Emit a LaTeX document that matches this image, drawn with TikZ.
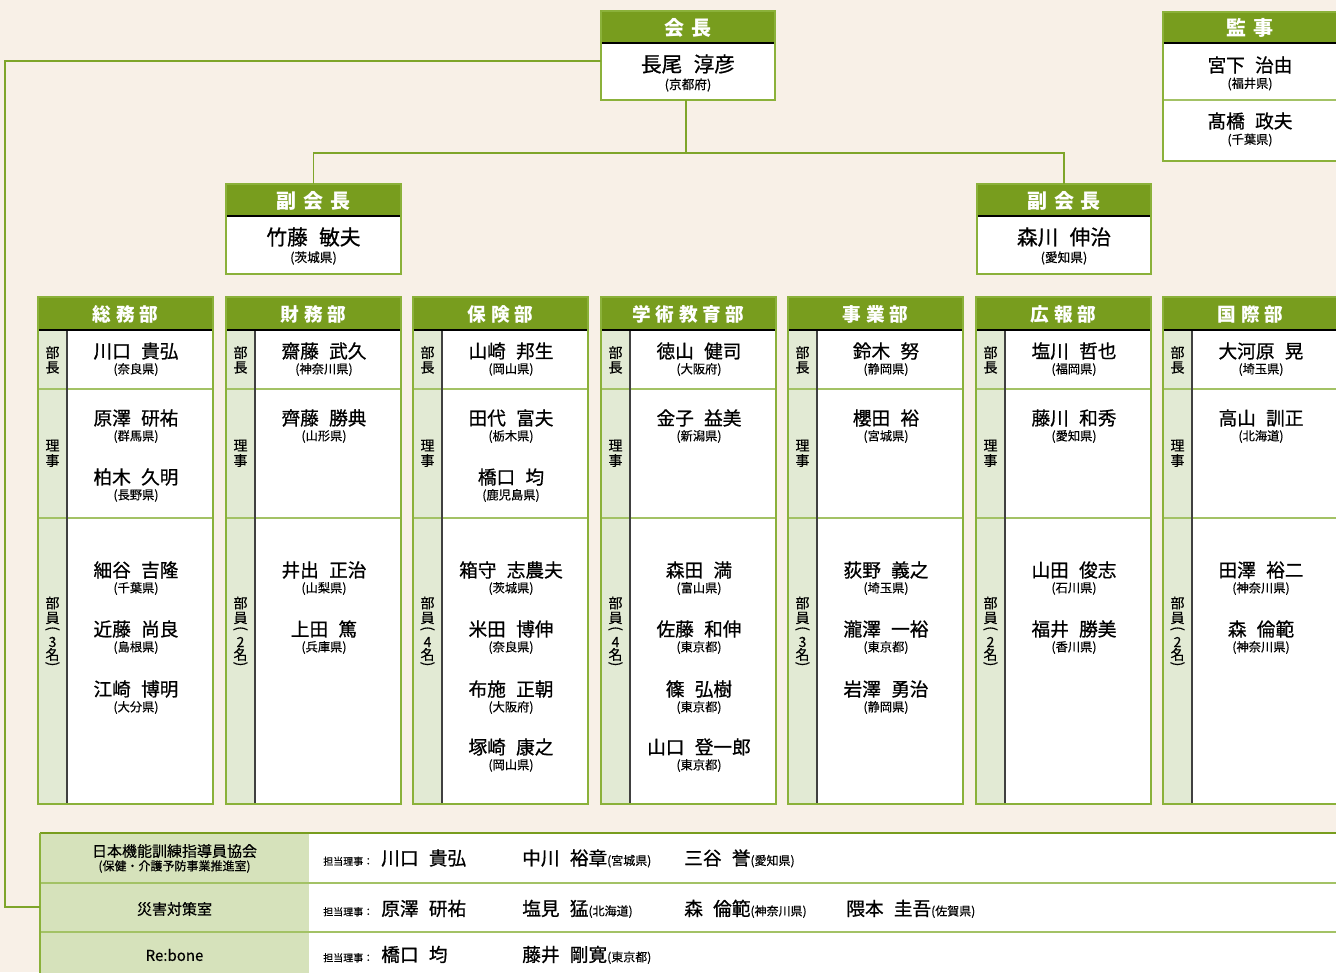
\documentclass[tikz,border=0pt]{standalone}
\usepackage{fontspec}
\usepackage{graphicx}
\setmainfont{Noto Sans CJK JP}
\newfontfamily\medf{Noto Sans CJK JP}[FakeBold=0.8]
\newfontfamily\semf{Noto Sans CJK JP}[FakeBold=0.4]
\usetikzlibrary{calc}
\definecolor{bgc}{HTML}{F8F0E7}
\definecolor{hdrc}{HTML}{789D1E}
\definecolor{bordc}{HTML}{8BB13A}
\definecolor{rowc}{HTML}{A3C265}
\definecolor{connc}{HTML}{7FA52A}
\definecolor{sidec}{HTML}{E2EAD4}
\definecolor{tblside}{HTML}{D6E2BB}
\definecolor{sepc}{HTML}{404040}
\newcommand\gp{\hspace{0.55em}}
\newcommand\ls{\hspace{3.5pt}}
\newcommand\lsb{\hspace{5pt}}
\newcommand\smf{\semf\fontsize{7.5}{9}\selectfont}
\newcommand\nmf{\medf\fontsize{14}{16}\selectfont}
\newcommand\bpf{\semf\fontsize{9}{10}\selectfont}
\newcommand\lpar{\rotatebox[origin=c]{-90}{(}}
\newcommand\rpar{\rotatebox[origin=c]{-90}{)}}
\newcommand\ppl[5]{%
  \node[nmt] (#1) at (#2,#3) {#4};
  \node[pft] (#1p) at (#2,#3+18.5) {#5};}
\newcommand\dept[4]{%
  \fill[white] (#1,297) rectangle ++(175,507);
  \fill[sidec] (#1,330) rectangle ++(29,474);
  \fill[hdrc] (#1,297) rectangle ++(175,33);
  \draw[rowl] (#1,389) -- ++(175,0) (#1,518) -- ++(175,0);
  \draw[sepl] (#1+29,330) -- ++(0,474);
  \draw[blkl] (#1,330) -- ++(175,0);
  \draw[bordl] (#1,297) rectangle ++(175,507);
  \node[hdrt] (#3-h) at (#1+87.5,314) {#2};
  \node[vch] (#3-l1a) at (#1+14.5,352.5) {部};
  \node[vch] (#3-l1b) at (#1+14.5,367.5) {長};
  \node[vch] (#3-l2a) at (#1+14.5,445.5) {理};
  \node[vch] (#3-l2b) at (#1+14.5,460.5) {事};
  \node[vch] (#3-l3a) at (#1+14.5,603) {部};
  \node[vch] (#3-l3b) at (#1+14.5,618) {員};
  \node[vch] (#3-l3c) at (#1+14.5,629.5) {\lpar};
  \node[vch] (#3-l3d) at (#1+14.5,642) {#4};
  \node[vch] (#3-l3e) at (#1+14.5,654.5) {名};
  \node[vch] (#3-l3f) at (#1+14.5,665) {\rpar};}
\begin{document}
\begin{tikzpicture}[x=0.75pt,y=-0.75pt,
  hdrt/.style={text=white,font=\fontsize{14}{15}\selectfont\bfseries,inner sep=0pt},
  bighdr/.style={text=white,font=\fontsize{15}{17}\selectfont\bfseries,inner sep=0pt},
  nmt/.style={font=\nmf,inner sep=0pt},
  bignm/.style={font=\medf\fontsize{15.5}{17}\selectfont,inner sep=0pt},
  pft/.style={font=\semf\fontsize{9.2}{10}\selectfont,inner sep=0pt},
  bigpf/.style={font=\semf\fontsize{9.5}{10}\selectfont,inner sep=0pt},
  vch/.style={font=\semf\fontsize{10.5}{12}\selectfont,inner sep=0pt},
  bordl/.style={draw=bordc,line width=1.5pt},
  rowl/.style={draw=rowc,line width=1.1pt},
  sepl/.style={draw=sepc,line width=0.8pt},
  blkl/.style={draw=black,line width=1pt},
  conn/.style={draw=connc,line width=1.3pt},
  boxn/.style={inner sep=0pt,outer sep=0pt,anchor=north west,fill=white},
  rowt/.style={anchor=base west,inner sep=0pt},
  leftt/.style={inner sep=0pt}]
\useasboundingbox (0,0) rectangle (1336,972);
\clip (0,0) rectangle (1336,972);
\fill[bgc] (0,0) rectangle (1336,972);

% ---- president
\node[boxn,minimum width=130.5pt,minimum height=66.75pt] (kaicho) at (601,11) {};
\fill[hdrc] (601,11) rectangle (775,43);
\draw[blkl] (601,43) -- (775,43);
\draw[bordl] (601,11) rectangle (775,100);
\node[bighdr] (kaicho-h) at (688,28) {会\lsb 長};
\node[bignm] (kaicho-n) at (688,64) {長尾\gp 淳彦};
\node[bigpf] (kaicho-p) at (688,85) {(京都府)};

% ---- auditors
\node[boxn,minimum width=130.5pt,minimum height=111.75pt] (kanji) at (1163,12) {};
\fill[hdrc] (1163,12) rectangle (1340,43);
\draw[blkl] (1163,43) -- (1340,43);
\draw[rowl] (1163,100) -- (1340,100);
\draw[bordl] (1163,12) rectangle (1337,161);
\node[bighdr] (kanji-h) at (1250,28) {監\lsb 事};
\node[nmt] (kanji-a) at (1250,65) {宮下\gp 治由};
\node[pft] (kanji-ap) at (1250,84) {(福井県)};
\node[nmt] (kanji-b) at (1250,121) {髙橋\gp 政夫};
\node[pft] (kanji-bp) at (1250,140) {(千葉県)};

% ---- vice presidents
\node[boxn,minimum width=131.25pt,minimum height=67.5pt] (vice1) at (226,184) {};
\fill[hdrc] (226,184) rectangle (401,216);
\draw[blkl] (226,216) -- (401,216);
\draw[bordl] (226,184) rectangle (401,274);
\node[bighdr] (vice1-h) at (313.5,201) {副\lsb 会\lsb 長};
\node[bignm] (vice1-n) at (313.5,237) {竹藤\gp 敏夫};
\node[bigpf] (vice1-p) at (313.5,258) {(茨城県)};

\node[boxn,minimum width=130.5pt,minimum height=67.5pt] (vice2) at (977,184) {};
\fill[hdrc] (977,184) rectangle (1151,216);
\draw[blkl] (977,216) -- (1151,216);
\draw[bordl] (977,184) rectangle (1151,274);
\node[bighdr] (vice2-h) at (1064,201) {副\lsb 会\lsb 長};
\node[bignm] (vice2-n) at (1064,237) {森川\gp 伸治};
\node[bigpf] (vice2-p) at (1064,258) {(愛知県)};

% ---- bottom table
\node[inner sep=0pt,outer sep=0pt,anchor=north west,minimum width=972pt,minimum height=105pt] (tbl) at (40,833) {};
\fill[tblside] (40,833) rectangle (309,980);
\fill[white] (309,833) rectangle (1340,980);
\draw[rowl] (40,883) -- (1340,883) (40,932) -- (1340,932);
\draw[draw=hdrc,line width=1.5pt] (40,833) -- (1340,833);
\draw[bordl] (40,833) -- (40,980);

% ---- connectors
\coordinate (lc) at (5,907);
\coordinate (mid) at ($(kaicho.south)+(-2,53)$);
\draw[conn] ($(kaicho.west)+(0,5.5)$) -| (lc) -- (tbl.west |- lc);
\draw[conn] (kaicho.south -| mid) -- (mid);
\draw[conn] (vice1.north) |- (mid) -| (vice2.north);

% ---- departments
\dept{38}{総\ls 務\ls 部}{d1}{3}
\dept{226}{財\ls 務\ls 部}{d2}{2}
\dept{413}{保\ls 険\ls 部}{d3}{4}
\dept{601}{学\ls 術\ls 教\ls 育\ls 部}{d4}{4}
\dept{788}{事\ls 業\ls 部}{d5}{3}
\dept{976}{広\ls 報\ls 部}{d6}{2}
\dept{1163}{国\ls 際\ls 部}{d7}{2}

\ppl{d1a}{136}{351}{川口\gp 貴弘}{(奈良県)}
\ppl{d1b}{136}{418}{原澤\gp 研祐}{(群馬県)}
\ppl{d1c}{136}{477}{柏木\gp 久明}{(長野県)}
\ppl{d1d}{136}{570}{細谷\gp 吉隆}{(千葉県)}
\ppl{d1e}{136}{629}{近藤\gp 尚良}{(島根県)}
\ppl{d1f}{136}{689}{江崎\gp 博明}{(大分県)}

\ppl{d2a}{324}{351}{齋藤\gp 武久}{(神奈川県)}
\ppl{d2b}{324}{418}{齊藤\gp 勝典}{(山形県)}
\ppl{d2d}{324}{570}{井出\gp 正治}{(山梨県)}
\ppl{d2e}{324}{629}{上田\gp 篤}{(兵庫県)}

\ppl{d3a}{511}{351}{山崎\gp 邦生}{(岡山県)}
\ppl{d3b}{511}{418}{田代\gp 富夫}{(栃木県)}
\ppl{d3c}{511}{477}{橋口\gp 均}{(鹿児島県)}
\ppl{d3d}{511}{570}{箱守\gp 志農夫}{(茨城県)}
\ppl{d3e}{511}{629}{米田\gp 博伸}{(奈良県)}
\ppl{d3f}{511}{689}{布施\gp 正朝}{(大阪府)}
\ppl{d3g}{511}{747}{塚崎\gp 康之}{(岡山県)}

\ppl{d4a}{699}{351}{徳山\gp 健司}{(大阪府)}
\ppl{d4b}{699}{418}{金子\gp 益美}{(新潟県)}
\ppl{d4d}{699}{570}{森田\gp 満}{(富山県)}
\ppl{d4e}{699}{629}{佐藤\gp 和伸}{(東京都)}
\ppl{d4f}{699}{689}{篠\gp 弘樹}{(東京都)}
\ppl{d4g}{699}{747}{山口\gp 登一郎}{(東京都)}

\ppl{d5a}{886}{351}{鈴木\gp 努}{(静岡県)}
\ppl{d5b}{886}{418}{櫻田\gp 裕}{(宮城県)}
\ppl{d5d}{886}{570}{荻野\gp 義之}{(埼玉県)}
\ppl{d5e}{886}{629}{瀧澤\gp 一裕}{(東京都)}
\ppl{d5f}{886}{689}{岩澤\gp 勇治}{(静岡県)}

\ppl{d6a}{1074}{351}{塩川\gp 哲也}{(福岡県)}
\ppl{d6b}{1074}{418}{藤川\gp 和秀}{(愛知県)}
\ppl{d6d}{1074}{570}{山田\gp 俊志}{(石川県)}
\ppl{d6e}{1074}{629}{福井\gp 勝美}{(香川県)}

\ppl{d7a}{1261}{351}{大河原\gp 晃}{(埼玉県)}
\ppl{d7b}{1261}{418}{高山\gp 訓正}{(北海道)}
\ppl{d7d}{1261}{570}{田澤\gp 裕二}{(神奈川県)}
\ppl{d7e}{1261}{629}{森\gp 倫範}{(神奈川県)}

% ---- bottom table texts
\node[leftt,font=\semf\fontsize{11.25}{13}\selectfont] (b1l) at (174.5,851) {日本機能訓練指導員協会};
\node[leftt,font=\semf\fontsize{9}{10}\selectfont] (b1s) at (174.5,866.5) {(保健・介護予防事業推進室)};
\node[leftt,font=\semf\fontsize{11.25}{13}\selectfont] (b2l) at (174.5,909) {災害対策室};
\node[leftt,font=\semf\fontsize{11.25}{13}\selectfont] (b3l) at (174.5,955) {Re:bone};

\node[rowt] (b1a) at (323,865) {\smf 担当理事：\hspace{6pt}\nmf 川口\gp 貴弘};
\node[rowt] (b1b) at (522,865) {\nmf 中川\gp 裕章\bpf (宮城県)};
\node[rowt] (b1c) at (684,865) {\nmf 三谷\gp 誉\bpf (愛知県)};
\node[rowt] (b2a) at (323,915.5) {\smf 担当理事：\hspace{6pt}\nmf 原澤\gp 研祐};
\node[rowt] (b2b) at (522,915.5) {\nmf 塩見\gp 猛\bpf (北海道)};
\node[rowt] (b2c) at (684,915.5) {\nmf 森\gp 倫範\bpf (神奈川県)};
\node[rowt] (b2d) at (846,915.5) {\nmf 隈本\gp 圭吾\bpf (佐賀県)};
\node[rowt] (b3a) at (323,961.5) {\smf 担当理事：\hspace{6pt}\nmf 橋口\gp 均};
\node[rowt] (b3b) at (522,961.5) {\nmf 藤井\gp 剛寛\bpf (東京都)};
\end{tikzpicture}
\end{document}
